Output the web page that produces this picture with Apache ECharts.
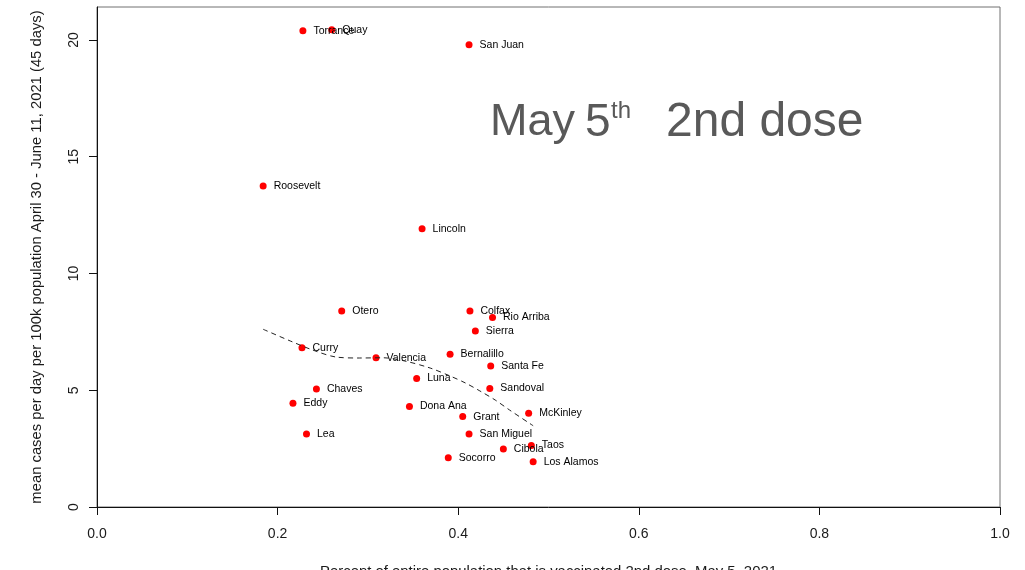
<!DOCTYPE html>
<html>
<head>
<meta charset="utf-8">
<script src="https://cdn.jsdelivr.net/npm/echarts@6/dist/echarts.min.js"></script>
<style>
  html, body { margin: 0; padding: 0; background: #fff; }
  #chart { width: 1025px; height: 570px; }
</style>
</head>
<body>
<div id="chart"></div>
<script>
// New Mexico counties: share of population fully vaccinated (2nd dose) by May 5, 2021
// versus mean daily cases per 100k, April 30 - June 11, 2021.
const counties = [
  'Torrance', 'Quay', 'San Juan', 'Roosevelt', 'Lincoln', 'Otero', 'Colfax',
  'Rio Arriba', 'Sierra', 'Curry', 'Valencia', 'Bernalillo', 'Santa Fe', 'Luna',
  'Sandoval', 'Chaves', 'Eddy', 'Dona Ana', 'Grant', 'McKinley', 'Lea',
  'San Miguel', 'Taos', 'Cibola', 'Socorro', 'Los Alamos'
];
const pctVaccinated = [
  0.228, 0.260, 0.412, 0.184, 0.360, 0.271, 0.413,
  0.438, 0.419, 0.227, 0.309, 0.391, 0.436, 0.354,
  0.435, 0.243, 0.217, 0.346, 0.405, 0.478, 0.232,
  0.412, 0.481, 0.450, 0.389, 0.483
];
const casesPer100k = [
  20.39, 20.44, 19.79, 13.75, 11.91, 8.39, 8.39,
  8.11, 7.54, 6.82, 6.39, 6.54, 6.04, 5.50,
  5.07, 5.05, 4.44, 4.30, 3.87, 4.01, 3.13,
  3.13, 2.63, 2.48, 2.11, 1.94
];

// Local regression (loess) trend
const trendX = [0.184, 0.214, 0.239, 0.265, 0.291, 0.317, 0.341, 0.369, 0.391, 0.408, 0.424, 0.441, 0.457, 0.483];
const trendY = [7.61, 7.11, 6.72, 6.42, 6.38, 6.39, 6.25, 5.95, 5.61, 5.31, 4.97, 4.58, 4.15, 3.48];

// Axis ticks
const xTicks = [0, 0.2, 0.4, 0.6, 0.8, 1.0];
const yTicks = [0, 5, 10, 15, 20];

const FONT = '"Liberation Sans", Arial, Helvetica, sans-serif';
const TITLE_COLOR = '#595959';

const points = counties.map((name, i) => ({ name, value: [pctVaccinated[i], casesPer100k[i]] }));
const trend = trendX.map((x, i) => [x, trendY[i]]);

const chart = echarts.init(document.getElementById('chart'), null, { renderer: 'canvas' });

chart.setOption({
  animation: false,
  backgroundColor: '#ffffff',
  textStyle: { fontFamily: FONT },
  grid: {
    left: 97, right: 25, top: 7, bottom: 63,
    show: true, borderColor: '#707070', borderWidth: 1,
    containLabel: false, outerBoundsMode: 'none'
  },
  xAxis: {
    type: 'value', min: 0, max: 1, interval: 0.2,
    splitLine: { show: false },
    axisLine: { show: true, onZero: false, lineStyle: { color: '#111', width: 1 } },
    axisTick: { show: true, length: 8, lineStyle: { color: '#111' }, customValues: xTicks },
    axisLabel: {
      margin: 20, fontSize: 14, color: '#1a1a1a', fontFamily: FONT,
      customValues: xTicks,
      formatter: v => v.toFixed(1)
    },
    name: 'Percent of entire population that is vaccinated 2nd dose, May 5, 2021',
    nameLocation: 'middle', nameGap: 57,
    nameTextStyle: { fontSize: 14.9, color: '#1a1a1a', fontFamily: FONT }
  },
  yAxis: {
    type: 'value', min: 0, max: 21.41,
    splitLine: { show: false },
    axisLine: { show: true, onZero: false, lineStyle: { color: '#111', width: 1 } },
    axisTick: { show: true, length: 8, lineStyle: { color: '#111' }, customValues: yTicks },
    axisLabel: {
      margin: 16, fontSize: 14, color: '#1a1a1a', fontFamily: FONT, rotate: 90,
      customValues: yTicks
    },
    name: 'mean cases per day per 100k population April 30 - June 11, 2021 (45 days)',
    nameLocation: 'middle', nameGap: 53, nameRotate: 90,
    nameTextStyle: { fontSize: 14.8, color: '#1a1a1a', fontFamily: FONT }
  },
  series: [
    {
      type: 'scatter',
      data: points,
      symbol: 'circle',
      symbolSize: 7,
      clip: false,
      itemStyle: { color: '#ff0000', opacity: 1 },
      label: {
        show: true, position: 'right', distance: 7,
        formatter: '{b}', fontSize: 10.5, color: '#000', fontFamily: FONT
      },
      z: 3
    },
    {
      type: 'line',
      data: trend,
      smooth: 0.3,
      showSymbol: false,
      symbol: 'none',
      lineStyle: { color: '#222', width: 1, type: [5, 4] },
      z: 4
    }
  ],
  graphic: [
    { type: 'text', x: 490, y: 100.5, style: { text: 'May', font: '45px ' + FONT, fill: TITLE_COLOR } },
    { type: 'text', x: 585, y: 100, style: { text: '5', font: '46px ' + FONT, fill: TITLE_COLOR } },
    { type: 'text', x: 611, y: 99, style: { text: 'th', font: '24px ' + FONT, fill: TITLE_COLOR } },
    { type: 'text', x: 666, y: 98.6, style: { text: '2nd dose', font: '48px ' + FONT, fill: TITLE_COLOR } }
  ]
});
</script>
</body>
</html>
